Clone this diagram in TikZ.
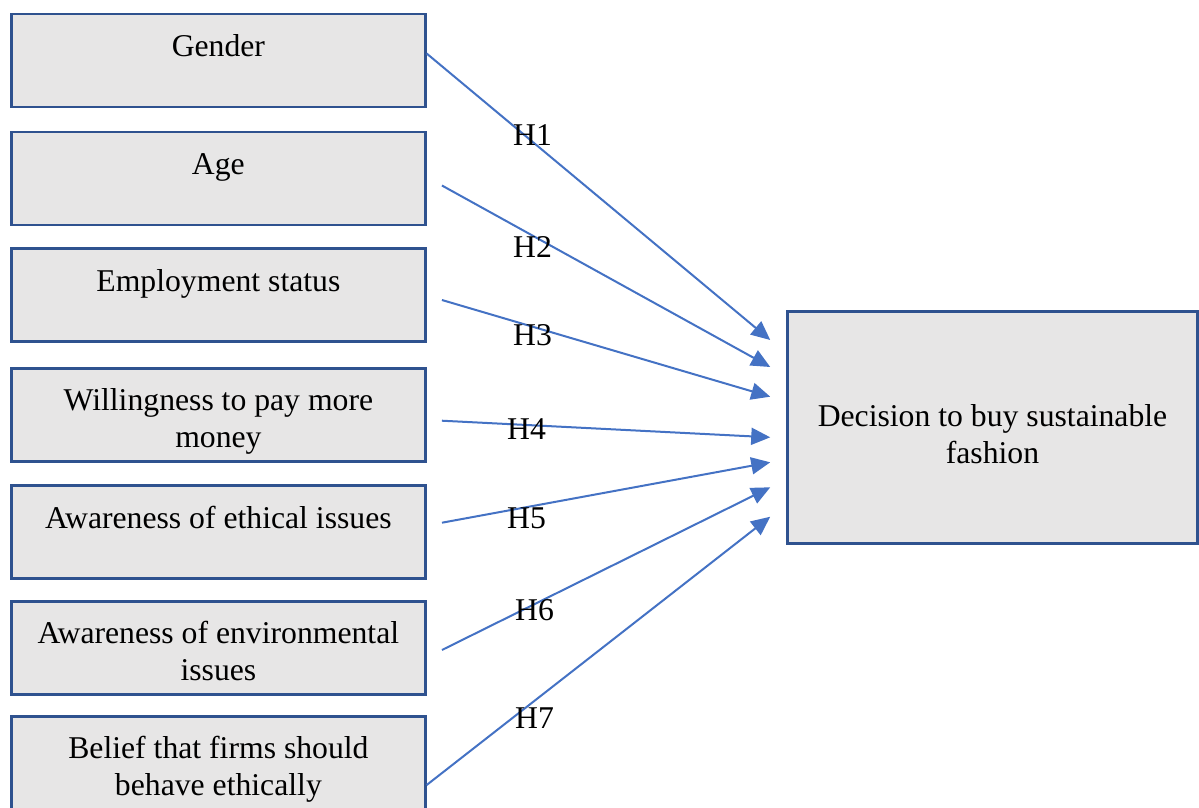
\documentclass[tikz,border=0pt]{standalone}
\usepackage{fontspec}
\setmainfont{Liberation Serif}
\usetikzlibrary{arrows.meta}
\definecolor{boxline}{HTML}{2F528F}
\definecolor{boxfill}{HTML}{E7E6E6}
\definecolor{hypblue}{HTML}{4472C4}

\begin{document}
\begin{tikzpicture}[x=1pt,y=-1pt,
    input node/.style={rectangle,draw=boxline,fill=boxfill,line width=2.5pt,minimum width=414pt,minimum height=93pt,inner sep=0pt},
    output node/.style={rectangle,draw=boxline,fill=boxfill,line width=2.5pt,minimum width=410pt,minimum height=232pt,inner sep=0pt},
    box text/.style={anchor=base,align=center,inner sep=0pt,font=\fontsize{31.7}{37}\selectfont},
    hyp label/.style={anchor=base west,inner sep=0pt,font=\fontsize{31.7}{37}\selectfont},
    hyp arrow/.style={draw=hypblue,line width=2pt,-{Triangle[length=19pt,width=17pt]}}]
    \useasboundingbox (0,0) rectangle (1199,807);
    \clip (0,0) rectangle (1199,807);

    % factors on the left
    \node[input node] (gender) at (218.4,60.5) {};
    \node[input node] (age) at (218.4,178.5) {};
    \node[input node] (employment) at (218.4,295) {};
    \node[input node] (willingness) at (218.4,415) {};
    \node[input node] (ethical) at (218.4,532) {};
    \node[input node] (environmental) at (218.4,648) {};
    \node[input node] (belief) at (218.4,763) {};

    % base sits on the last line, so two-line texts go one line lower
    \node[box text] (gender text) at ([yshift=-44pt]gender.north) {Gender};
    \node[box text] (age text) at ([yshift=-44pt]age.north) {Age};
    \node[box text] (employment text) at ([yshift=-44pt]employment.north) {Employment status};
    \node[box text] (willingness text) at ([yshift=-80pt]willingness.north) {Willingness to pay more\\money};
    \node[box text] (ethical text) at ([yshift=-44pt]ethical.north) {Awareness of ethical issues};
    \node[box text] (environmental text) at ([yshift=-80pt]environmental.north) {Awareness of environmental\\issues};
    \node[box text] (belief text) at ([yshift=-80pt]belief.north) {Belief that firms should\\behave ethically};

    % outcome on the right
    \node[output node] (decision) at (992.5,427.7) {};
    \node[box text] (decision text) at ([yshift=-35.3pt]decision.center) {Decision to buy sustainable\\fashion};

    % hypotheses
    \draw[hyp arrow] ([yshift=7pt]gender.east) -- ([shift={(-16pt,87.7pt)}]decision.west);
    \draw[hyp arrow] ([shift={(15.3pt,-7pt)}]age.east) -- ([shift={(-16pt,60.7pt)}]decision.west);
    \draw[hyp arrow] ([shift={(15.3pt,-5pt)}]employment.east) -- ([shift={(-16pt,31pt)}]decision.west);
    \draw[hyp arrow] ([shift={(15.3pt,-5.7pt)}]willingness.east) -- ([shift={(-16pt,-9.6pt)}]decision.west);
    \draw[hyp arrow] ([shift={(15.3pt,9.3pt)}]ethical.east) -- ([shift={(-16pt,-34.6pt)}]decision.west);
    \draw[hyp arrow] ([shift={(15.3pt,-2pt)}]environmental.east) -- ([shift={(-16pt,-59.6pt)}]decision.west);
    \draw[hyp arrow] ([yshift=-22pt]belief.east) -- ([shift={(-16pt,-89pt)}]decision.west);

    \node[hyp label] (h1) at (513,145) {H1};
    \node[hyp label] (h2) at (513,257) {H2};
    \node[hyp label] (h3) at (513,345.3) {H3};
    \node[hyp label] (h4) at (507,439.3) {H4};
    \node[hyp label] (h5) at (507,528) {H5};
    \node[hyp label] (h6) at (515,620.3) {H6};
    \node[hyp label] (h7) at (515,728.7) {H7};
\end{tikzpicture}
\end{document}
